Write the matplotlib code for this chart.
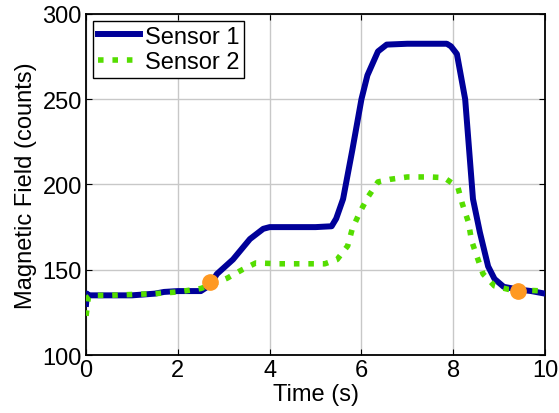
import numpy as np
import matplotlib.pyplot as plt

plt.rcParams['font.family'] = ['Liberation Sans', 'DejaVu Sans']

# Sensor 1
t1 = [0.0, 0.02, 0.05, 0.5, 1.0, 1.5, 1.7, 2.0, 2.5, 2.7, 2.85, 3.2, 3.57, 3.86, 4.0, 4.5, 5.0, 5.35,
      5.45, 5.6, 5.8, 6.0, 6.13, 6.36, 6.55, 7.0, 7.5, 7.86, 7.95, 8.08, 8.26, 8.43, 8.58, 8.76, 8.9,
      9.1, 9.4, 9.7, 10.0]
s1 = [130, 136, 135, 135, 135, 136, 137, 137.5, 137.5, 141, 147.5, 156, 168, 174, 175, 175, 175, 175.5,
      180, 191.5, 220, 250, 264, 278, 282, 282.5, 282.5, 282.5, 281, 276.5, 250, 191.5, 172, 152, 144.6,
      140, 138.5, 137.5, 136]

# Sensor 2
t2 = [0.0, 0.05, 0.1, 0.5, 1.0, 1.5, 2.0, 2.5, 2.7, 3.07, 3.4, 3.7, 4.2, 4.7, 5.2, 5.47, 5.7, 5.8,
      5.97, 6.15, 6.36, 6.62, 7.0, 7.5, 7.8, 8.1, 8.2, 8.33, 8.4, 8.52, 8.65, 8.9, 9.2, 9.6, 10.0]
s2 = [123, 134, 135, 135, 135.5, 136, 137, 139, 141, 145, 150, 154, 153.5, 153.5, 153.5, 156, 164, 174,
      184, 193, 201.5, 203, 204.4, 204.4, 204, 198.5, 188.5, 178, 167, 157.5, 147.5, 140.5, 138.5, 138, 137.5]

# markers
mark_t = [2.7, 9.41]
mark_v = [143, 137.5]

fig = plt.figure(figsize=(5.59, 4.14), dpi=100)
ax = fig.add_axes([0.154, 0.140, 0.821, 0.824])

ax.plot(t1, s1, color='#000099', lw=4.3, label='Sensor 1', zorder=3)
ax.plot(t2, s2, color='#55dd00', lw=4, linestyle=(0, (1, 1.6)), label='Sensor 2', zorder=4)
ax.plot(mark_t, mark_v, 'o', color='#ff9922', ms=11, zorder=5)

ax.set_xlim(0, 10)
ax.set_ylim(100, 300)
ax.set_xticks([0, 2, 4, 6, 8, 10])
ax.set_yticks([100, 150, 200, 250, 300])
ax.grid(True, color='#c8c8c8', lw=1)
ax.set_axisbelow(True)
ax.tick_params(direction='in', top=True, right=True, labelsize=17, length=4, pad=3)
for sp in ax.spines.values():
    sp.set_linewidth(1.3)

ax.set_xlabel('Time (s)', fontsize=17, labelpad=1)
ax.set_ylabel('Magnetic Field (counts)', fontsize=17, labelpad=4)

leg = ax.legend(loc='upper left', fontsize=17, handlelength=1.8, handletextpad=0.2,
                borderpad=0.2, labelspacing=0.15, fancybox=False, framealpha=1,
                borderaxespad=0.3)
leg.get_frame().set_edgecolor('black')
leg.get_frame().set_linewidth(1)

fig.savefig('out.png', dpi=100)
